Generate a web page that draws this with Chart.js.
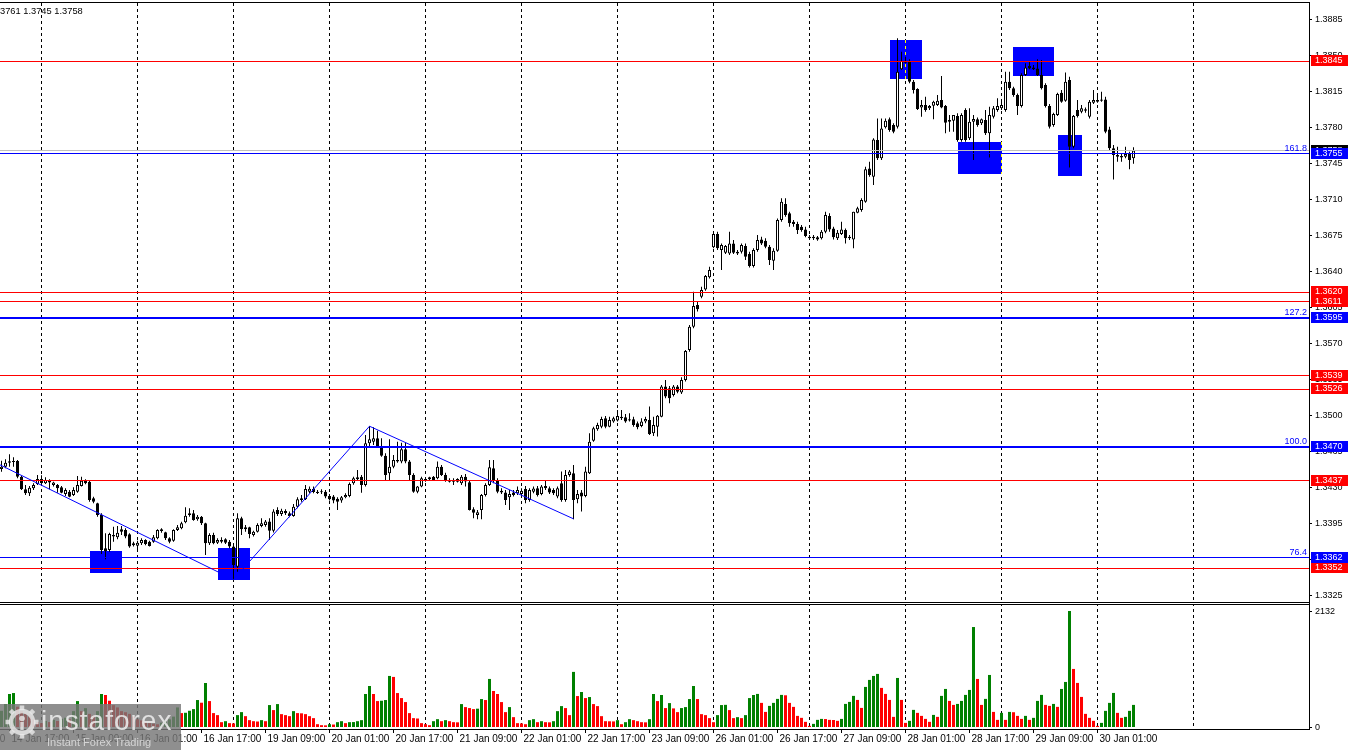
<!DOCTYPE html>
<html><head><meta charset="utf-8">
<script src="https://cdn.jsdelivr.net/npm/chart.js@4.4.1/dist/chart.umd.min.js"></script>
<style>html,body{margin:0;padding:0;background:#fff;overflow:hidden}canvas{display:block}</style>
</head><body>
<canvas id="c" width="1350" height="750"></canvas>
<script>
// ---------- DATA (hourly bars, 14 Jan 15:00 .. 30 Jan 10:00) ----------
const openP = [
1.34484,1.34507,1.34546,1.34559,1.34562,1.34410,1.34287,1.34248,1.34296,1.34339,
1.34387,1.34345,1.34371,1.34329,1.34329,1.34306,1.34241,1.34264,1.34232,1.34264,
1.34319,1.34371,1.34361,1.34199,1.34151,1.34037,1.33713,1.33697,1.33827,1.33820,
1.33898,1.33891,1.33849,1.33762,1.33739,1.33762,1.33794,1.33778,1.33778,1.33810,
1.33898,1.33869,1.33810,1.33788,1.33891,1.33908,1.33966,1.34053,1.34053,1.33995,
1.34021,1.33956,1.33762,1.33843,1.33768,1.33778,1.33801,1.33778,1.33730,1.33535,
1.34005,1.33898,1.33918,1.33843,1.33875,1.33930,1.33940,1.33973,1.33885,1.34086,
1.34047,1.34076,1.34054,1.34028,1.34118,1.34199,1.34190,1.34264,1.34290,1.34264,
1.34267,1.34264,1.34222,1.34216,1.34196,1.34177,1.34209,1.34222,1.34345,1.34384,
1.34410,1.34329,1.34734,1.34750,1.34783,1.34708,1.34614,1.34442,1.34507,1.34572,
1.34556,1.34676,1.34556,1.34426,1.34264,1.34313,1.34378,1.34384,1.34410,1.34394,
1.34507,1.34426,1.34378,1.34378,1.34387,1.34345,1.34410,1.34355,1.34093,1.34038,
1.34086,1.34232,1.34329,1.34491,1.34378,1.34274,1.34255,1.34209,1.34255,1.34248,
1.34242,1.34290,1.34183,1.34264,1.34297,1.34242,1.34319,1.34297,1.34281,1.34216,
1.34345,1.34183,1.34426,1.34443,1.34190,1.34255,1.34222,1.34443,1.34760,1.34870,
1.34896,1.34977,1.34896,1.34945,1.34955,1.34993,1.34987,1.34967,1.34967,1.34929,
1.34903,1.34945,1.34961,1.34831,1.34896,1.34993,1.35285,1.35269,1.35204,1.35285,
1.35227,1.35350,1.35641,1.35868,1.36079,1.36159,1.36230,1.36347,1.36639,1.36768,
1.36613,1.36587,1.36580,1.36677,1.36596,1.36596,1.36651,1.36574,1.36457,1.36613,
1.36716,1.36703,1.36645,1.36509,1.36606,1.36904,1.37060,1.36969,1.36888,1.36865,
1.36839,1.36813,1.36742,1.36726,1.36736,1.36726,1.36791,1.36943,1.36823,1.36726,
1.36768,1.36807,1.36726,1.36716,1.36976,1.37001,1.37082,1.37406,1.37325,1.37682,
1.37504,1.37805,1.37883,1.37828,1.37811,1.38369,1.38453,1.38443,1.38249,1.38177,
1.37999,1.38022,1.37990,1.38015,1.38022,1.38071,1.38012,1.37876,1.37870,1.37915,
1.37682,1.37973,1.37698,1.37860,1.37883,1.37844,1.37876,1.37747,1.37909,1.37973,
1.37990,1.37973,1.38249,1.38184,1.38119,1.38012,1.38314,1.38401,1.38388,1.38378,
1.38314,1.38216,1.38012,1.37828,1.37925,1.38142,1.38064,1.38265,1.37617,1.37973,
1.37957,1.37980,1.37909,1.38045,1.38071,1.38064,1.38077,1.37785,1.37601,1.37536,
1.37526,1.37520,1.37546,1.37504];
const highP = [
1.34565,1.34578,1.34627,1.34598,1.34572,1.34416,1.34329,1.34319,1.34345,1.34426,
1.34423,1.34403,1.34384,1.34361,1.34339,1.34319,1.34296,1.34280,1.34306,1.34416,
1.34410,1.34384,1.34368,1.34215,1.34157,1.34053,1.33859,1.33865,1.33924,1.33930,
1.33930,1.33908,1.33859,1.33778,1.33788,1.33810,1.33801,1.33788,1.33843,1.33898,
1.33908,1.33875,1.33820,1.33898,1.33940,1.33972,1.34112,1.34102,1.34086,1.34037,
1.34028,1.33963,1.33859,1.33865,1.33810,1.33820,1.33810,1.33794,1.33736,1.34053,
1.34021,1.33940,1.33924,1.33885,1.33956,1.34005,1.33989,1.34005,1.34092,1.34112,
1.34099,1.34092,1.34070,1.34144,1.34209,1.34232,1.34329,1.34313,1.34313,1.34280,
1.34287,1.34280,1.34242,1.34232,1.34209,1.34222,1.34248,1.34352,1.34410,1.34475,
1.34426,1.34815,1.34902,1.34890,1.34857,1.34783,1.34637,1.34773,1.34621,1.34750,
1.34740,1.34740,1.34572,1.34442,1.34319,1.34410,1.34394,1.34410,1.34417,1.34556,
1.34523,1.34449,1.34394,1.34394,1.34394,1.34426,1.34436,1.34378,1.34112,1.34086,
1.34242,1.34345,1.34572,1.34572,1.34394,1.34297,1.34281,1.34281,1.34281,1.34313,
1.34297,1.34319,1.34297,1.34313,1.34319,1.34329,1.34371,1.34313,1.34297,1.34313,
1.34459,1.34475,1.34475,1.34524,1.34281,1.34281,1.34507,1.34831,1.34896,1.34935,
1.34993,1.35000,1.34993,1.34993,1.35058,1.35058,1.35019,1.35026,1.34993,1.34945,
1.34977,1.34993,1.35091,1.34993,1.35010,1.35301,1.35350,1.35292,1.35301,1.35301,
1.35376,1.35641,1.35884,1.36208,1.36111,1.36256,1.36370,1.36451,1.36791,1.36791,
1.36677,1.36661,1.36791,1.36710,1.36613,1.36677,1.36677,1.36596,1.36629,1.36759,
1.36742,1.36726,1.36661,1.36629,1.36920,1.37115,1.37115,1.36985,1.36904,1.36888,
1.36856,1.36839,1.36759,1.36759,1.36749,1.36807,1.36985,1.36969,1.36839,1.36807,
1.36888,1.36823,1.36759,1.36985,1.37034,1.37115,1.37423,1.37471,1.37698,1.37892,
1.37892,1.37892,1.37902,1.37844,1.38670,1.38540,1.38492,1.38466,1.38265,1.38184,
1.38071,1.38103,1.38022,1.38064,1.38119,1.38304,1.38022,1.37925,1.37925,1.37941,
1.37941,1.37990,1.37990,1.37925,1.37902,1.37892,1.37973,1.38006,1.38012,1.38087,
1.38054,1.38346,1.38346,1.38200,1.38135,1.38330,1.38427,1.38443,1.38411,1.38466,
1.38459,1.38233,1.38032,1.37947,1.38142,1.38168,1.38339,1.38297,1.37925,1.38071,
1.38022,1.37999,1.38071,1.38168,1.38129,1.38152,1.38103,1.37811,1.37633,1.37617,
1.37546,1.37617,1.37568,1.37611];
const lowP = [
1.34458,1.34491,1.34507,1.34507,1.34394,1.34280,1.34232,1.34222,1.34280,1.34329,
1.34329,1.34339,1.34287,1.34313,1.34254,1.34248,1.34222,1.34209,1.34222,1.34254,
1.34313,1.34335,1.34167,1.34151,1.34021,1.33658,1.33606,1.33681,1.33778,1.33801,
1.33843,1.33810,1.33720,1.33730,1.33681,1.33746,1.33742,1.33730,1.33768,1.33801,
1.33865,1.33794,1.33762,1.33778,1.33882,1.33898,1.33956,1.34021,1.33982,1.33982,
1.33940,1.33648,1.33746,1.33752,1.33755,1.33762,1.33755,1.33713,1.33406,1.33486,
1.33843,1.33875,1.33811,1.33827,1.33866,1.33918,1.33924,1.33794,1.33866,1.34028,
1.34028,1.34037,1.34015,1.34021,1.34102,1.34167,1.34183,1.34248,1.34248,1.34242,
1.34242,1.34199,1.34177,1.34151,1.34086,1.34157,1.34199,1.34209,1.34332,1.34371,
1.34254,1.34313,1.34708,1.34718,1.34695,1.34604,1.34378,1.34378,1.34491,1.34546,
1.34540,1.34540,1.34378,1.34254,1.34248,1.34306,1.34361,1.34371,1.34371,1.34384,
1.34417,1.34361,1.34352,1.34329,1.34352,1.34329,1.34313,1.34080,1.34005,1.33995,
1.33995,1.34216,1.34320,1.34345,1.34248,1.34242,1.34135,1.34086,1.34216,1.34232,
1.34222,1.34151,1.34167,1.34248,1.34216,1.34229,1.34281,1.34242,1.34232,1.34200,
1.34167,1.34167,1.34410,1.33995,1.34151,1.34070,1.34209,1.34436,1.34750,1.34857,
1.34880,1.34880,1.34890,1.34935,1.34945,1.34961,1.34935,1.34945,1.34896,1.34870,
1.34890,1.34929,1.34815,1.34805,1.34799,1.34987,1.35172,1.35123,1.35188,1.35220,
1.35214,1.35334,1.35625,1.35852,1.36014,1.36143,1.36217,1.36337,1.36629,1.36613,
1.36418,1.36574,1.36564,1.36574,1.36564,1.36580,1.36515,1.36444,1.36444,1.36596,
1.36661,1.36629,1.36467,1.36418,1.36596,1.36888,1.36937,1.36839,1.36839,1.36768,
1.36791,1.36736,1.36716,1.36710,1.36703,1.36716,1.36775,1.36791,1.36716,1.36710,
1.36759,1.36677,1.36710,1.36629,1.36969,1.36985,1.37073,1.37325,1.37244,1.37487,
1.37487,1.37795,1.37763,1.37747,1.37795,1.38362,1.38427,1.38233,1.38135,1.37973,
1.37909,1.37957,1.37973,1.37883,1.38012,1.37990,1.37747,1.37763,1.37763,1.37666,
1.37666,1.37666,1.37682,1.37487,1.37811,1.37828,1.37730,1.37513,1.37892,1.37957,
1.37973,1.37957,1.38168,1.38103,1.37925,1.37999,1.38304,1.38369,1.38362,1.38304,
1.38174,1.37999,1.37795,1.37811,1.37915,1.38045,1.38054,1.37416,1.37601,1.37902,
1.37941,1.37947,1.37892,1.38032,1.38045,1.38054,1.37747,1.37585,1.37299,1.37471,
1.37471,1.37504,1.37397,1.37452];
const closeP = [
1.34507,1.34546,1.34559,1.34552,1.34410,1.34287,1.34248,1.34303,1.34329,1.34387,
1.34345,1.34377,1.34352,1.34352,1.34296,1.34254,1.34280,1.34215,1.34280,1.34329,
1.34371,1.34345,1.34183,1.34167,1.34037,1.33697,1.33687,1.33853,1.33843,1.33865,
1.33875,1.33827,1.33730,1.33742,1.33768,1.33794,1.33755,1.33736,1.33820,1.33891,
1.33882,1.33810,1.33778,1.33891,1.33917,1.33956,1.34031,1.34037,1.33989,1.34021,
1.33956,1.33762,1.33843,1.33762,1.33794,1.33794,1.33768,1.33730,1.33551,1.34005,
1.33898,1.33918,1.33853,1.33875,1.33940,1.33956,1.33973,1.33885,1.34070,1.34047,
1.34079,1.34054,1.34028,1.34118,1.34190,1.34183,1.34290,1.34293,1.34261,1.34251,
1.34258,1.34216,1.34190,1.34177,1.34167,1.34209,1.34232,1.34339,1.34394,1.34404,
1.34329,1.34734,1.34773,1.34783,1.34708,1.34614,1.34426,1.34507,1.34572,1.34556,
1.34676,1.34556,1.34426,1.34264,1.34313,1.34394,1.34384,1.34404,1.34378,1.34507,
1.34426,1.34371,1.34361,1.34361,1.34361,1.34410,1.34362,1.34086,1.34060,1.34064,
1.34232,1.34329,1.34501,1.34378,1.34264,1.34255,1.34183,1.34242,1.34232,1.34281,
1.34274,1.34183,1.34281,1.34294,1.34232,1.34313,1.34297,1.34255,1.34248,1.34297,
1.34183,1.34426,1.34459,1.34183,1.34242,1.34216,1.34459,1.34750,1.34880,1.34912,
1.34971,1.34896,1.34961,1.34977,1.35000,1.34977,1.34945,1.34955,1.34912,1.34890,
1.34945,1.34971,1.34825,1.34912,1.35003,1.35285,1.35188,1.35172,1.35285,1.35236,
1.35350,1.35632,1.35868,1.36069,1.36037,1.36224,1.36360,1.36418,1.36768,1.36629,
1.36661,1.36651,1.36677,1.36587,1.36580,1.36661,1.36548,1.36457,1.36613,1.36710,
1.36677,1.36645,1.36515,1.36606,1.36904,1.37082,1.36953,1.36872,1.36865,1.36807,
1.36807,1.36749,1.36726,1.36742,1.36716,1.36791,1.36953,1.36813,1.36736,1.36781,
1.36813,1.36726,1.36742,1.36985,1.37018,1.37099,1.37397,1.37342,1.37688,1.37504,
1.37795,1.37870,1.37779,1.37763,1.38346,1.38453,1.38434,1.38249,1.38168,1.37983,
1.38022,1.37973,1.38012,1.38054,1.38064,1.37999,1.37850,1.37860,1.37925,1.37682,
1.37925,1.37682,1.37860,1.37886,1.37828,1.37883,1.37747,1.37925,1.37990,1.38012,
1.38022,1.38249,1.38184,1.38119,1.38012,1.38314,1.38388,1.38378,1.38369,1.38314,
1.38184,1.38012,1.37811,1.37935,1.38129,1.38054,1.38249,1.37617,1.37915,1.37915,
1.37990,1.37967,1.38054,1.38071,1.38054,1.38077,1.37763,1.37601,1.37536,1.37520,
1.37513,1.37546,1.37487,1.37581];
const volume = [
306,430,613,631,380,300,250,200,150,100, 80,120,100,140,120,160,180,150,300,484,
300,355,250,220,300,613,595,490,410,368, 300,280,250,200,150,130,100,80,70,60,
90,120,150,200,368,264,270,307,337,503, 454,815,484,264,227,98,116,80,75,227,
282,208,135,116,110,135,116,411,319,429, 245,227,208,300,264,260,245,208,172,61,
43,40,61,55,98,116,80,98,100,116, 135,613,760,613,484,490,503,944,926,631,
539,466,264,172,165,80,61,43,116,153, 116,135,116,98,95,429,374,356,337,345,
521,503,889,668,613,466,282,374,190,80, 75,61,135,153,98,116,98,95,116,300,
392,356,227,1018,576,650,539,558,429,392, 208,116,114,112,135,61,98,153,135,116,
98,95,153,613,484,595,356,447,350,282, 356,374,521,760,521,245,227,172,98,227,
411,415,319,172,190,172,227,539,595,615, 451,286,396,451,524,597,590,451,378,213,
177,104,30,67,140,158,155,140,138,122, 158,432,469,579,505,359,743,871,944,981,
725,615,505,195,907,505,85,122,323,268, 213,158,104,231,195,579,706,487,414,432,
487,597,688,1839,889,414,524,962,286,140, 268,140,286,280,213,158,213,140,177,487,
597,414,396,432,378,706,834,2132,1072,816, 560,250,177,122,30,85,305,451,633,268,
177,195,305,414];

// time axis labels (bar index -> text) and daily grid bars
const tickIdx = [-14,2,18,34,50,66,82,98,114,130,146,162,178,194,210,226,242,258,274];
const tickLabels = ['14 Jan 01:00','14 Jan 17:00','15 Jan 09:00','16 Jan 01:00','16 Jan 17:00',
  '19 Jan 09:00','20 Jan 01:00','20 Jan 17:00','21 Jan 09:00','22 Jan 01:00','22 Jan 17:00',
  '23 Jan 09:00','26 Jan 01:00','26 Jan 17:00','27 Jan 09:00','28 Jan 01:00','28 Jan 17:00',
  '29 Jan 09:00','30 Jan 01:00'];
const dayGrid = [10,34,58,82,106,130,154,178,202,226,250,274,298];
const priceTicks = [1.3325,1.3360,1.3395,1.3430,1.3465,1.3500,1.3535,1.3570,1.3605,1.3640,
  1.3675,1.3710,1.3745,1.3780,1.3815,1.3850,1.3885];
const volTicks = [0, 2132];

// horizontal levels
const redLevels = [1.3845, 1.3620, 1.3611, 1.3539, 1.3526, 1.3437, 1.3352];
const fibLevels = [1.3755, 1.3595, 1.3470, 1.3362];
const fibLabels = ['161.8', '127.2', '100.0', '76.4'];
const bidPrice = 1.3758;
// rectangles: [fromBar, toBar, topPrice, bottomPrice]
const zones = [[22,30,1.33687,1.33473],[54,62,1.33719,1.33405],[222,230,1.38654,1.38275],
  [239,250,1.37663,1.37352],[253,263,1.38586,1.38307],[264,270,1.37731,1.37335]];
// trend lines: [bar1, price1, bar2, price2]
const trendLines = [[-8,1.3467,58,1.3341],[58,1.3341,92,1.3490],[92,1.3490,143,1.3400]];
const infoText = '3761 1.3745 1.3758';

// ---------- BUILD ----------
const FONT = 'Liberation Sans';
const wickData = highP.map((h, i) => ({x: i, y: [lowP[i], h]}));
const bodyData = openP.map((o, i) => ({x: i, y: [o, closeP[i]]}));
const bodyColors = openP.map((o, i) => closeP[i] >= o ? '#ffffff' : '#000000');
const volData = volume.map((v, i) => ({x: i, y: v}));
const volColors = volume.map((v, i) => (i === 0 || v > volume[i - 1]) ? '#008000' : '#ff0000');
const fibWidths = [1, 2, 2, 1];

const overlay = {
  id: 'overlay',
  beforeDatasetsDraw(chart) {
    const {ctx, chartArea: a, scales: {x, y}} = chart;
    ctx.save();
    ctx.beginPath(); ctx.rect(a.left, a.top, a.right - a.left, y.bottom - a.top); ctx.clip();
    zones.forEach(z => {
      const x0 = Math.round(x.getPixelForValue(z[0])), x1 = Math.round(x.getPixelForValue(z[1]));
      const y0 = Math.round(y.getPixelForValue(z[2])), y1 = Math.round(y.getPixelForValue(z[3]));
      ctx.fillStyle = '#0000ff';
      ctx.fillRect(x0, y0, x1 - x0, y1 - y0);
      dayGrid.forEach(g => {
        const gx = Math.floor(x.getPixelForValue(g)) + 0.5;
        if (gx > x0 && gx < x1) {
          ctx.strokeStyle = '#ffff00'; ctx.lineWidth = 1; ctx.setLineDash([3, 3]);
          ctx.beginPath(); ctx.moveTo(gx, y0); ctx.lineTo(gx, y1); ctx.stroke(); ctx.setLineDash([]);
        }
      });
    });
    ctx.restore();
  },
  afterDatasetsDraw(chart) {
    const {ctx, chartArea: a, scales: {x, y}} = chart;
    ctx.save();
    ctx.beginPath(); ctx.rect(a.left, a.top, a.right - a.left, y.bottom - a.top); ctx.clip();
    const hline = (p, col, w) => {
      const py = y.getPixelForValue(p);
      ctx.fillStyle = col;
      ctx.fillRect(a.left, w === 1 ? Math.round(py - 0.5) : Math.round(py - 1), a.right - a.left, w);
    };
    hline(bidPrice, '#c0c0c0', 1);
    redLevels.forEach(p => hline(p, '#ff0000', 1));
    fibLevels.forEach((p, k) => hline(p, '#0000ff', fibWidths[k]));
    ctx.strokeStyle = '#0000ff'; ctx.lineWidth = 1;
    trendLines.forEach(t => {
      ctx.beginPath();
      ctx.moveTo(x.getPixelForValue(t[0]), y.getPixelForValue(t[1]));
      ctx.lineTo(x.getPixelForValue(t[2]), y.getPixelForValue(t[3]));
      ctx.stroke();
    });
    ctx.font = '9px "' + FONT + '"'; ctx.textAlign = 'right'; ctx.textBaseline = 'alphabetic';
    ctx.fillStyle = '#0000ff';
    fibLevels.forEach((p, k) => ctx.fillText(fibLabels[k], a.right - 2, Math.round(y.getPixelForValue(p)) - 3));
    ctx.restore();
  },
  afterDraw(chart) {
    const {ctx, chartArea: a, scales: {y}} = chart;
    ctx.save();
    ctx.fillStyle = '#000';
    ctx.fillRect(0, a.top - 1, a.right + 1, 1);
    const sep = Math.round(y.bottom);
    ctx.fillStyle = '#fff'; ctx.fillRect(0, sep, a.right, 3);
    ctx.fillStyle = '#000'; ctx.fillRect(0, sep, a.right, 1); ctx.fillRect(0, sep + 2, a.right, 1);
    ctx.font = '9px "' + FONT + '"'; ctx.textAlign = 'left'; ctx.textBaseline = 'middle';
    const tag = (p, bg) => {
      const py = Math.round(y.getPixelForValue(p));
      ctx.fillStyle = bg; ctx.fillRect(a.right + 2, py - 6, 37, 11);
      ctx.fillStyle = '#fff'; ctx.fillText(p.toFixed(4), a.right + 6, py);
    };
    tag(bidPrice, '#000000');
    redLevels.forEach(p => tag(p, '#ff0000'));
    fibLevels.forEach(p => tag(p, '#0000ff'));
    ctx.fillStyle = '#000'; ctx.font = '9.3px "' + FONT + '"'; ctx.textBaseline = 'alphabetic';
    ctx.fillText(infoText, 0, 14);
    // watermark
    ctx.fillStyle = 'rgba(118,118,118,0.82)';
    ctx.fillRect(0, 704, 181, 46);
    ctx.strokeStyle = 'rgba(235,235,235,0.8)'; ctx.fillStyle = 'rgba(235,235,235,0.8)';
    const cx = 22, cy = 722;
    ctx.lineWidth = 4.5; ctx.beginPath(); ctx.arc(cx, cy, 11, 0, Math.PI * 2); ctx.stroke();
    for (let k = 0; k < 8; k++) {
      const ang = k * Math.PI / 4;
      ctx.beginPath();
      ctx.moveTo(cx + Math.cos(ang) * 12, cy + Math.sin(ang) * 12);
      ctx.lineTo(cx + Math.cos(ang) * 16.5, cy + Math.sin(ang) * 16.5);
      ctx.stroke();
    }
    ctx.beginPath(); ctx.arc(cx, cy - 3.5, 2.8, 0, Math.PI * 2); ctx.fill();
    ctx.fillRect(cx - 1.7, cy, 3.4, 8);
    ctx.fillStyle = 'rgba(240,240,240,0.85)';
    ctx.font = '28px "' + FONT + '"';
    try { ctx.letterSpacing = '1px'; } catch (e) {}
    ctx.fillText('instaforex', 41, 730);
    try { ctx.letterSpacing = '0px'; } catch (e) {}
    ctx.font = '11px "' + FONT + '"'; ctx.fillStyle = 'rgba(225,225,225,0.85)';
    ctx.fillText('Instant Forex Trading', 47, 746);
    ctx.restore();
  }
};

const tickFont = {family: FONT, size: 9};
new Chart(document.getElementById('c'), {
  type: 'bar',
  data: {datasets: [
    {data: volData, xAxisID: 'x', yAxisID: 'yv', backgroundColor: volColors, barThickness: 3,
     grouped: false, inflateAmount: 0, borderWidth: 0, order: 3},
    {data: wickData, xAxisID: 'x', yAxisID: 'y', backgroundColor: '#000', barThickness: 1,
     grouped: false, inflateAmount: 0, borderWidth: 0, order: 2},
    {data: bodyData, xAxisID: 'x', yAxisID: 'y', backgroundColor: bodyColors, borderColor: '#000',
     borderWidth: 1, borderSkipped: false, barThickness: 3, minBarLength: 1,
     grouped: false, inflateAmount: 0, order: 1}
  ]},
  options: {
    responsive: false, animation: false, events: [],
    layout: {padding: {top: 3, left: 0, right: 0, bottom: 0}},
    plugins: {legend: {display: false}, tooltip: {enabled: false}},
    scales: {
      x: {type: 'linear', position: 'bottom', min: -0.375, max: 326.875, offset: false,
        afterBuildTicks: s => { s.ticks = tickIdx.map(v => ({value: v})); },
        afterFit: s => { s.height = 21; s.paddingLeft = 0; s.paddingRight = 0; },
        grid: {display: true, drawOnChartArea: false, drawTicks: true, tickLength: 4, tickColor: '#000', offset: false},
        border: {display: true, color: '#000', width: 1},
        ticks: {autoSkip: false, maxRotation: 0, minRotation: 0, align: 'start', labelOffset: 2, padding: 0,
          color: '#000', font: {family: FONT, size: 10}, callback: (v, i) => tickLabels[i]}},
      xd: {type: 'linear', position: 'bottom', min: -0.375, max: 326.875, offset: false,
        afterBuildTicks: s => { s.ticks = dayGrid.map(v => ({value: v})); },
        afterFit: s => { s.height = 0; s.paddingLeft = 0; s.paddingRight = 0; },
        grid: {display: true, drawOnChartArea: true, drawTicks: false, color: '#000', lineWidth: 1, offset: false},
        border: {display: false, dash: [3, 3]},
        ticks: {display: false}},
      y: {type: 'linear', position: 'right', stack: 'pane', stackWeight: 599, offset: false,
        min: 1.331915, max: 1.390138,
        afterBuildTicks: s => { s.ticks = priceTicks.map(v => ({value: v})); },
        afterFit: s => { s.width = 41; s.paddingTop = 0; s.paddingBottom = 0; },
        grid: {display: true, drawOnChartArea: false, drawTicks: true, tickLength: 3, tickColor: '#000'},
        border: {display: true, color: '#000'},
        ticks: {autoSkip: false, padding: 3, color: '#000', font: tickFont, callback: v => v.toFixed(4)}},
      yv: {type: 'linear', position: 'right', stack: 'pane', stackWeight: 127, offset: false,
        min: -27, max: 2297,
        afterBuildTicks: s => { s.ticks = volTicks.map(v => ({value: v})); },
        afterFit: s => { s.width = 41; s.paddingTop = 0; s.paddingBottom = 0; },
        grid: {display: true, drawOnChartArea: false, drawTicks: true, tickLength: 3, tickColor: '#000'},
        border: {display: true, color: '#000'},
        ticks: {autoSkip: false, padding: 3, color: '#000', font: tickFont, callback: v => String(v)}}
    }
  },
  plugins: [overlay]
});
</script>
</body></html>
